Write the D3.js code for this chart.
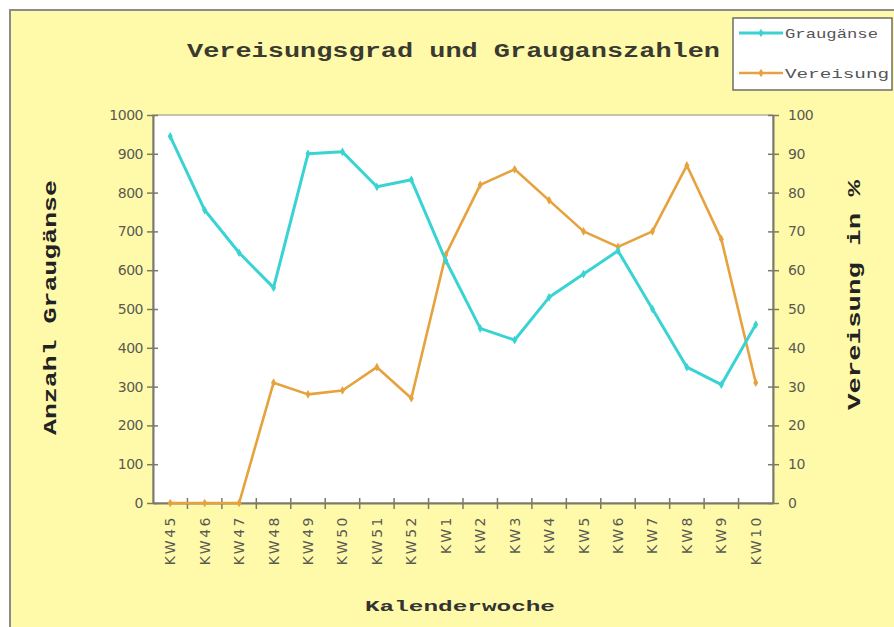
<!DOCTYPE html>
<html>
<head>
<meta charset="utf-8">
<script src="https://cdn.jsdelivr.net/npm/d3@7"></script>
<style>
  body { margin: 0; background: #fff; }
  svg { display: block; }
</style>
</head>
<body>
<div id="chart"></div>
<script>
// Kalenderwochen und Werte
const weeks = ["KW45", "KW46", "KW47", "KW48", "KW49", "KW50", "KW51", "KW52",
    "KW1", "KW2", "KW3", "KW4", "KW5", "KW6", "KW7", "KW8", "KW9", "KW10"]
const graugaense = [945, 755, 645, 555, 900, 905, 815, 833, 625, 450, 420, 530, 590, 650, 500, 350, 305, 460]
const vereisung = [0, 0, 0, 31, 28, 29, 35, 27, 64, 82, 86, 78, 70, 66, 70, 87, 68, 31]
const leftTicks = [0, 100, 200, 300, 400, 500, 600, 700, 800, 900, 1000]
const rightTicks = [0, 10, 20, 30, 40, 50, 60, 70, 80, 90, 100]

const width = 894, height = 627
const plot = {left: 153, right: 773, top: 115, bottom: 503}
const cyan = "#3ad3d3", orange = "#e6a23c"
const axisColor = "#7a7a6a"
const mono = "'Liberation Mono', 'DejaVu Sans Mono', monospace"
const sans = "'DejaVu Sans', Verdana, sans-serif"

let svg = d3.select("#chart")
    .append("svg")
    .attr("width", width)
    .attr("height", height)

// chart area
svg.append("rect")
    .attr("x", 10).attr("y", 10)
    .attr("width", 900).attr("height", 640)
    .attr("fill", "#fffaaa")
    .attr("stroke", "#8c8c84")
    .attr("stroke-width", 2)

// plot area
svg.append("rect")
    .attr("x", plot.left).attr("y", plot.top)
    .attr("width", plot.right - plot.left).attr("height", plot.bottom - plot.top)
    .attr("fill", "#ffffff")
    .attr("stroke", "#b5b09a")
    .attr("stroke-width", 1.5)

let x = d3.scaleBand().domain(weeks).range([plot.left, plot.right]).padding(0)
let yL = d3.scaleLinear().domain([0, 1000]).range([plot.bottom, plot.top])
let yR = d3.scaleLinear().domain([0, 100]).range([plot.bottom, plot.top])
let cx = d => x(d) + x.bandwidth() / 2

function styleAxis(g) {
    g.select(".domain").attr("stroke", axisColor).attr("stroke-width", 2)
    g.selectAll(".tick line").attr("stroke", axisColor).attr("stroke-width", 1.5)
    g.selectAll(".tick text")
        .attr("fill", "#5a5a52")
        .attr("font-family", sans)
        .attr("font-size", 14)
}

// left axis
let gL = svg.append("g")
    .attr("transform", `translate(${plot.left},0)`)
    .call(d3.axisLeft(yL).tickValues(leftTicks).tickFormat(d3.format("d"))
        .tickSize(6).tickPadding(4).tickSizeOuter(0))
styleAxis(gL)
gL.selectAll(".tick line").attr("x1", -6).attr("x2", 5)
gL.selectAll(".tick text").attr("letter-spacing", -0.5)

// right axis
let gR = svg.append("g")
    .attr("transform", `translate(${plot.right},0)`)
    .call(d3.axisRight(yR).tickValues(rightTicks).tickFormat(d3.format("d"))
        .tickSize(6).tickPadding(9).tickSizeOuter(0))
styleAxis(gR)
gR.selectAll(".tick line").attr("x1", -5).attr("x2", 6)
gR.selectAll(".tick text").attr("letter-spacing", -0.5)

// bottom axis, labels at band centres
let gB = svg.append("g")
    .attr("transform", `translate(0,${plot.bottom})`)
    .call(d3.axisBottom(x).tickSize(0).tickSizeOuter(0))
styleAxis(gB)
gB.selectAll(".tick text")
    .attr("transform", "rotate(-90)")
    .attr("text-anchor", "end")
    .attr("x", -12)
    .attr("y", 0)
    .attr("dy", "0.36em")
    .attr("letter-spacing", 2.5)

// tick marks between categories
svg.append("g")
    .selectAll("line")
    .data(weeks.slice(1))
    .enter()
    .append("line")
    .attr("x1", d => x(d)).attr("x2", d => x(d))
    .attr("y1", plot.bottom - 5).attr("y2", plot.bottom + 6)
    .attr("stroke", axisColor)
    .attr("stroke-width", 1.5)

// series
function drawSeries(values, scale, color, lw) {
    let line = d3.line()
        .x((d, i) => cx(weeks[i]))
        .y(d => scale(d))

    svg.append("path")
        .datum(values)
        .attr("d", line)
        .attr("fill", "none")
        .attr("stroke", color)
        .attr("stroke-width", lw)
        .attr("stroke-linejoin", "round")

    svg.append("g")
        .selectAll("path")
        .data(values)
        .enter()
        .append("path")
        .attr("d", d3.symbol().type(d3.symbolDiamond).size(22))
        .attr("transform", (d, i) => `translate(${cx(weeks[i])},${scale(d)})`)
        .attr("fill", color)
}

drawSeries(vereisung, yR, orange, 2.6)
drawSeries(graugaense, yL, cyan, 3)

// titles
svg.append("text")
    .attr("x", 187).attr("y", 57)
    .attr("textLength", 533)
    .attr("lengthAdjust", "spacingAndGlyphs")
    .attr("font-family", mono)
    .attr("font-weight", "bold")
    .attr("font-size", 20)
    .attr("fill", "#3a3a30")
    .text("Vereisungsgrad und Grauganszahlen")

svg.append("text")
    .attr("transform", "translate(56,435) rotate(-90)")
    .attr("textLength", 255)
    .attr("lengthAdjust", "spacingAndGlyphs")
    .attr("font-family", mono)
    .attr("font-weight", "bold")
    .attr("font-size", 18)
    .attr("fill", "#222")
    .text("Anzahl Graugänse")

svg.append("text")
    .attr("transform", "translate(860,410) rotate(-90)")
    .attr("textLength", 230)
    .attr("lengthAdjust", "spacingAndGlyphs")
    .attr("font-family", mono)
    .attr("font-weight", "bold")
    .attr("font-size", 18)
    .attr("fill", "#222")
    .text("Vereisung in %")

svg.append("text")
    .attr("x", 365).attr("y", 611)
    .attr("textLength", 190)
    .attr("lengthAdjust", "spacingAndGlyphs")
    .attr("font-family", mono)
    .attr("font-weight", "bold")
    .attr("font-size", 15)
    .attr("fill", "#333")
    .text("Kalenderwoche")

// legend
let legend = svg.append("g")
legend.append("rect")
    .attr("x", 733).attr("y", 18)
    .attr("width", 159).attr("height", 72)
    .attr("fill", "#ffffff")
    .attr("stroke", "#6e6e66")
    .attr("stroke-width", 1.5)

let legendItems = [
    {name: "Graugänse", color: cyan, y: 33, len: 93, lw: 3},
    {name: "Vereisung", color: orange, y: 73, len: 104, lw: 2.6}
]
legendItems.forEach(function(d) {
    legend.append("line")
        .attr("x1", 739).attr("x2", 783)
        .attr("y1", d.y).attr("y2", d.y)
        .attr("stroke", d.color)
        .attr("stroke-width", d.lw)
    legend.append("path")
        .attr("d", d3.symbol().type(d3.symbolDiamond).size(22))
        .attr("transform", `translate(761,${d.y})`)
        .attr("fill", d.color)
    legend.append("text")
        .attr("x", 785).attr("y", d.y + 5)
        .attr("textLength", d.len)
        .attr("lengthAdjust", "spacingAndGlyphs")
        .attr("font-family", mono)
        .attr("font-size", 13)
        .attr("fill", "#555")
        .text(d.name)
})
</script>
</body>
</html>
